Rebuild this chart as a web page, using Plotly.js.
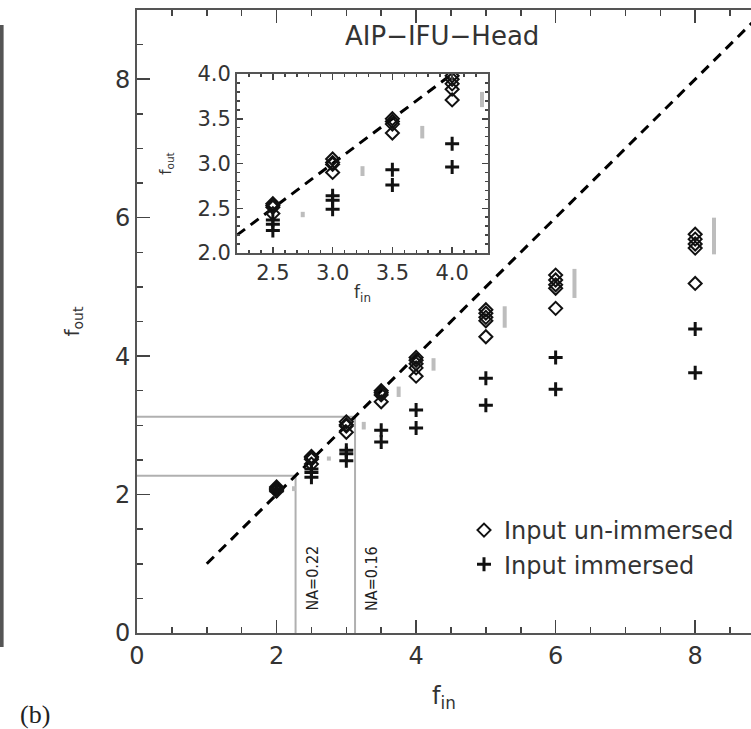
<!DOCTYPE html>
<html>
<head>
<meta charset="utf-8">
<script src="https://cdn.plot.ly/plotly-3.0.1.min.js"></script>
<style>
  html, body { margin: 0; padding: 0; background: #fff; overflow: hidden; }
  #chart { width: 751px; height: 729px; }
</style>
</head>
<body>
<div id="chart"></div>
<script>
// ---------------- data ----------------
const unX = [2,2,2,2, 2.5,2.5,2.5,2.5, 3,3,3,3, 3.5,3.5,3.5,3.5, 4,4,4,4,4, 5,5,5,5,5, 6,6,6,6,6, 8,8,8,8,8];
const unY = [2.11,2.09,2.07,2.05, 2.55,2.53,2.51,2.44, 3.05,3.01,2.99,2.90, 3.50,3.47,3.44,3.34, 3.98,3.94,3.89,3.83,3.71, 4.67,4.62,4.56,4.51,4.28, 5.17,5.10,5.03,4.98,4.69, 5.76,5.69,5.62,5.56,5.05];
const imX = [2,2, 2.5,2.5,2.5, 3,3,3, 3.5,3.5, 4,4, 5,5, 6,6, 8,8];
const imY = [2.08,2.05, 2.37,2.32,2.25, 2.64,2.59,2.49, 2.93,2.76, 3.22,2.96, 3.68,3.29, 3.98,3.52, 4.39,3.76];

// grey range bars
const barMainX    = [2.25, 2.75, 3.25, 3.75, 4.25, 5.27, 6.27, 8.27];
const barMainLow  = [2.05, 2.49, 2.94, 3.41, 3.79, 4.41, 4.84, 5.47];
const barMainHigh = [2.12, 2.55, 3.05, 3.56, 3.97, 4.72, 5.26, 6.00];
const barInsetX    = [2.75, 3.25, 3.75, 4.25];
const barInsetLow  = [2.40, 2.86, 3.28, 3.63];
const barInsetHigh = [2.46, 2.97, 3.42, 3.80];

// one-to-one reference line
const oneToOneMain  = [1, 9];
const oneToOneInset = [2.2, 4.3];

// numerical apertures marked
const naValues = [0.22, 0.16];
const naLabels = ['NA=0.22', 'NA=0.16'];

const titleText = 'AIP\u2212IFU\u2212Head';
const legendNames = ['Input un-immersed', 'Input immersed'];

// ---------------- helpers ----------------
function segs(xs, lo, hi) {
  const x = [], y = [];
  xs.forEach((v, i) => { x.push(v, v, null); y.push(lo[i], hi[i], null); });
  return {x, y};
}
const FONT = "'DejaVu Sans', 'Liberation Sans', sans-serif";
const FONTC = "'DejaVu Sans Condensed', 'Liberation Sans Narrow', 'DejaVu Sans', sans-serif";
const TXT = '#333';

const bm = segs(barMainX, barMainLow, barMainHigh);
const bi = segs(barInsetX, barInsetLow, barInsetHigh);

const diamondMarker = {symbol: 'diamond-open', size: 10, color: '#111', line: {width: 2, color: '#111'}};
const crossMarker = {symbol: 'cross-thin-open', size: 10, color: '#111', line: {width: 3, color: '#111'}};

const traces = [
  {x: bm.x, y: bm.y, mode: 'lines', line: {color: '#bdbdbd', width: 4}, showlegend: false, hoverinfo: 'skip', xaxis: 'x', yaxis: 'y'},
  {x: oneToOneMain, y: oneToOneMain, mode: 'lines', line: {color: '#000', width: 3, dash: '10px,7px'}, showlegend: false, xaxis: 'x', yaxis: 'y'},
  {x: unX, y: unY, mode: 'markers', marker: diamondMarker, name: legendNames[0], xaxis: 'x', yaxis: 'y'},
  {x: imX, y: imY, mode: 'markers', marker: crossMarker, name: legendNames[1], xaxis: 'x', yaxis: 'y'},
  // inset
  {x: bi.x, y: bi.y, mode: 'lines', line: {color: '#bdbdbd', width: 4}, showlegend: false, hoverinfo: 'skip', xaxis: 'x2', yaxis: 'y2'},
  {x: oneToOneInset, y: oneToOneInset, mode: 'lines', line: {color: '#000', width: 3, dash: '10px,7px'}, showlegend: false, xaxis: 'x2', yaxis: 'y2'},
  {x: unX, y: unY, mode: 'markers', marker: diamondMarker, showlegend: false, xaxis: 'x2', yaxis: 'y2'},
  {x: imX, y: imY, mode: 'markers', marker: crossMarker, showlegend: false, xaxis: 'x2', yaxis: 'y2'}
];

// NA guide lines (f = 1 / (2 NA))
const shapes = [];
const annotations = [];
naValues.forEach((na, i) => {
  const f = 1 / (2 * na);
  shapes.push({type: 'line', xref: 'x', yref: 'y', x0: 0, x1: f, y0: f, y1: f, line: {color: '#b0b0b0', width: 2}, layer: 'below'});
  shapes.push({type: 'line', xref: 'x', yref: 'y', x0: f, x1: f, y0: 0, y1: f, line: {color: '#b0b0b0', width: 2}, layer: 'below'});
  annotations.push({xref: 'x', yref: 'y', x: f, y: 0.29, text: naLabels[i], textangle: -90, showarrow: false,
    xanchor: 'left', yanchor: 'bottom', xshift: 5, font: {family: FONTC, size: 16, color: '#222'}});
});
// left edge of neighbouring panel
shapes.push({type: 'line', xref: 'paper', yref: 'paper', x0: -0.2205, x1: -0.2205, y0: -0.0225, y1: 0.976, line: {color: '#555', width: 4}});

annotations.push({xref: 'paper', yref: 'paper', x: (442 - 137) / 614, y: 1 - (36 - 10) / 623, text: titleText, showarrow: false,
  xanchor: 'center', yanchor: 'middle', font: {family: FONT, size: 26, color: TXT}});
annotations.push({xref: 'paper', yref: 'paper', x: (35 - 137) / 614, y: 1 - (714 - 10) / 623, text: '(b)', showarrow: false,
  xanchor: 'center', yanchor: 'middle', font: {family: "'Liberation Serif', serif", size: 26, color: '#222'}});

const axisCommon = {
  showgrid: false, zeroline: false, showline: true, linecolor: '#555', linewidth: 2,
  ticks: 'inside', tickcolor: '#444', tickwidth: 1.5, mirror: 'ticks',
  tickfont: {family: FONT, size: 24, color: TXT}
};

const layout = {
  width: 751, height: 729,
  margin: {l: 137, r: 0, t: 10, b: 96},
  paper_bgcolor: '#fff', plot_bgcolor: '#fff',
  showlegend: true,
  legend: {x: (464 - 137) / 614, y: 1 - (508 - 10) / 623, xanchor: 'left', yanchor: 'top',
    bgcolor: 'rgba(0,0,0,0)', font: {family: FONT, size: 24, color: TXT}, tracegroupgap: 0},
  xaxis: Object.assign({}, axisCommon, {range: [0, 8.8], tickvals: [0, 2, 4, 6, 8], ticklen: 13,
    minor: {dtick: 0.5, ticks: 'inside', ticklen: 6, tickcolor: '#444', tickwidth: 1.5},
    title: {text: 'f<sub>in</sub>', font: {family: FONT, size: 24, color: TXT}, standoff: 18}}),
  yaxis: Object.assign({}, axisCommon, {range: [0, 9], tickvals: [0, 2, 4, 6, 8], ticklen: 13, mirror: false,
    minor: {dtick: 0.5, ticks: 'inside', ticklen: 6, tickcolor: '#444', tickwidth: 1.5},
    title: {text: 'f<sub>out</sub>', font: {family: FONT, size: 20, color: TXT}, standoff: 30}}),
  xaxis2: Object.assign({}, axisCommon, {domain: [(237 - 137) / 614, (488 - 137) / 614], anchor: 'y2',
    range: [2.2, 4.3], tickvals: [2.5, 3.0, 3.5, 4.0], ticktext: ['2.5', '3.0', '3.5', '4.0'], ticklen: 6, mirror: 'allticks',
    minor: {dtick: 0.1, ticks: 'inside', ticklen: 3, tickcolor: '#444', tickwidth: 1.5},
    tickfont: {family: FONT, size: 21, color: TXT},
    title: {text: 'f<sub>in</sub>', font: {family: FONT, size: 17, color: TXT}, standoff: 2}}),
  yaxis2: Object.assign({}, axisCommon, {domain: [1 - (253 - 10) / 623, 1 - (74 - 10) / 623], anchor: 'x2',
    range: [2.0, 4.0], tickvals: [2.0, 2.5, 3.0, 3.5, 4.0], ticktext: ['2.0', '2.5', '3.0', '3.5', '4.0'], ticklen: 6, mirror: 'allticks',
    minor: {dtick: 0.1, ticks: 'inside', ticklen: 3, tickcolor: '#444', tickwidth: 1.5},
    tickfont: {family: FONT, size: 21, color: TXT},
    title: {text: 'f<sub>out</sub>', font: {family: FONT, size: 15, color: TXT}, standoff: 22}}),
  shapes: shapes,
  annotations: annotations
};

Plotly.newPlot('chart', traces, layout, {displayModeBar: false, staticPlot: true});
</script>
</body>
</html>
